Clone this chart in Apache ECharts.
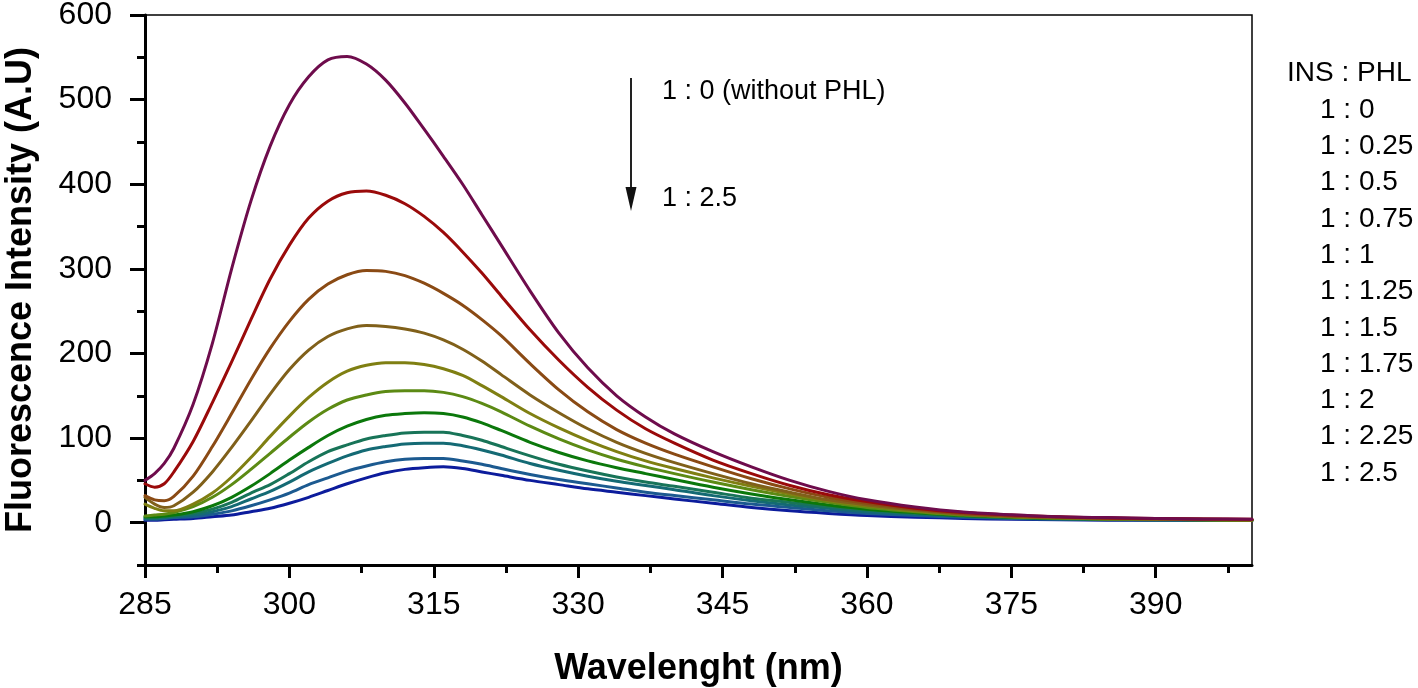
<!DOCTYPE html>
<html>
<head>
<meta charset="utf-8">
<script src="https://cdn.jsdelivr.net/npm/echarts@6/dist/echarts.min.js"></script>
<style>
html,body{margin:0;padding:0;background:#fff;}
#chart{width:1418px;height:688px;}
</style>
</head>
<body>
<div id="chart"></div>
<script>
// Wavelength (nm)
var wavelengths = [285,286,287,288,290,292,294,296,298,300,302,304,306,308,310,312,314,316,318,320,322,325,328,331,334,337,340,344,348,352,356,360,365,370,375,380,385,390,395,400];

// INS : PHL ratios (legend labels)
var ratioLabels = ['1 : 0','1 : 0.25','1 : 0.5','1 : 0.75','1 : 1','1 : 1.25','1 : 1.5','1 : 1.75','1 : 2','1 : 2.25','1 : 2.5'];

// Fluorescence intensity for each ratio
var s_1_0    = [50,58,70,88,140,212,300,380,445,494,527,547,551,542,523,496,465,433,400,364,328,274,224,183,150,125,105,84,66,50,37,27,18.5,12.5,9.5,7,6,5,4.5,4];
var s_1_025  = [46,42,46,60,96,142,190,240,288,328,360,380,390,392,387,377,362,343,320,295,268,228,192,160,133,111,94,74,58,44,33,25,17,12,9,7,5.5,5,4.5,4];
var s_1_05   = [32,27,26,31,55,90,129,169,206,238,264,282,293,298,297,292,283,271,257,240,221,188,157,131,110,94,81,66,52,40,30,23,16,11,8,6.5,5.5,4.5,4,3.5];
var s_1_075  = [30,22,18,20,36,60,89,120,152,181,204,220,229,233,232,229,224,216,205,191,175,151,130,111,95,82,71,58,46,36,27,21,15,10,7.5,6,5,4.5,4,3.5];
var s_1_1    = [22,17,14,14,22,35,54,77,102,126,148,166,179,186,189,189,187,182,174,162,149,129,112,97,84,73,64,53,43,34,26,20,14,10,7,5.5,4.5,4,3.5,3];
var s_1_125  = [8,9,10,12,19,30,45,63,82,101,119,134,145,151,155,156,156,154,149,141,131,114,99,86,75,66,58,48,39,31,24,18,13,9,7,5.5,4.5,4,3.5,3];
var s_1_15   = [7,7,8,9,13,20,30,43,58,74,89,103,114,122,127,129,130,129,125,118,109,95,83,73,65,58,51,42,34,27,21,16,12,8.5,6.5,5,4.5,4,3.5,3];
var s_1_175  = [6,6,7,8,11,16,24,35,45,58,72,84,92,99,103,106,107,107,103,97.5,90,79,69,61,54,48,43,36,29,24,19,15,11,8,6,5,4,3.5,3.5,3];
var s_1_2    = [5,5,6,7,9,13,19,28,37,48,60,70,79,86,90,93,94,94,91,86,80,70,62,55,49,44,39,32,26,21,17,13,10,7.5,5.5,4.5,4,3.5,3,3];
var s_1_225  = [4,4,5,6,7,10,14,20,27,35,45,53,61,67,72,75,76,76,73,69,64,57,51,46,41,36,32,27,22,18,14,11,8.5,6.5,5,4,3.5,3,3,2.5];
var s_1_25   = [3,3,3.5,4,5,7,9,13,17,23,30,38,46,53,59,63,65,66,64,60,56,50,45,40,36,32,28,23,18,14,11,8.5,6.5,5,4,3.5,3,3,2.5,2.5];

var seriesValues = [s_1_0,s_1_025,s_1_05,s_1_075,s_1_1,s_1_125,s_1_15,s_1_175,s_1_2,s_1_225,s_1_25];
var seriesColors = ['#6e0c4c','#9a0a0a','#8a4a14','#80601a','#7f7f12','#5c8a14','#0b780b','#187458','#146a74','#1c5a90','#0c1c9c'];

// Axis ticks
var xMajor = [285,300,315,330,345,360,375,390];
var xMinor = [292.5,307.5,322.5,337.5,352.5,367.5,382.5,397.5];
var yMajor = [0,100,200,300,400,500,600];
var yMinor = [-50,50,150,250,350,450,550];

var FONT = 'Liberation Sans, Arial, sans-serif';

var chart = echarts.init(document.getElementById('chart'), null, {renderer:'canvas'});

var series = seriesValues.map(function(vals, i){
  return {
    name: ratioLabels[i],
    type: 'line',
    xAxisIndex: 0, yAxisIndex: 0,
    showSymbol: false,
    smooth: 0.3,
    lineStyle: {width: 3, color: seriesColors[i], join:'round', cap:'round'},
    itemStyle: {color: seriesColors[i]},
    data: wavelengths.map(function(w, j){ return [w, vals[j]]; }),
    z: 3 + (seriesValues.length - i)
  };
});

var legendGraphics = [{
  type:'text', x:1287, y:73,
  style:{text:'INS : PHL', font:'28px ' + FONT, fill:'#000', align:'left', verticalAlign:'middle'}
}];
ratioLabels.forEach(function(lbl, i){
  legendGraphics.push({
    type:'text', x:1320, y:110 + i*36.3,
    style:{text:lbl, font:'28px ' + FONT, fill:'#000', align:'left', verticalAlign:'middle'}
  });
});

var option = {
  backgroundColor:'#fff',
  animation:false,
  grid:{left:145, right:166, top:15, bottom:123, outerBoundsMode:'none', containLabel:false,
        show:true, borderColor:'#000', borderWidth:1.5, backgroundColor:'transparent'},
  xAxis:[{
    type:'value', min:285, max:400, interval:7.5,
    name:'Wavelenght (nm)', nameLocation:'middle', nameGap:86,
    nameTextStyle:{fontFamily:FONT, fontSize:36, fontWeight:'bold', color:'#000'},
    axisLine:{show:true, onZero:false, lineStyle:{color:'#000', width:3}},
    axisTick:{show:true, inside:false, length:13, lineStyle:{color:'#000', width:3}, customValues:xMajor},
    axisLabel:{show:true, margin:24, fontFamily:FONT, fontSize:32, color:'#000', customValues:xMajor},
    splitLine:{show:false}
  },{
    type:'value', min:285, max:400, interval:7.5, position:'bottom',
    axisLine:{show:false, onZero:false},
    axisTick:{show:true, inside:false, length:8, lineStyle:{color:'#000', width:3}, customValues:xMinor},
    axisLabel:{show:false},
    splitLine:{show:false}
  }],
  yAxis:[{
    type:'value', min:-50, max:600, interval:50,
    name:'Fluorescence Intensity (A.U)', nameLocation:'middle', nameGap:106, nameRotate:90,
    nameTextStyle:{fontFamily:FONT, fontSize:36, fontWeight:'bold', color:'#000'},
    axisLine:{show:true, onZero:false, lineStyle:{color:'#000', width:3}},
    axisTick:{show:true, inside:false, length:15, lineStyle:{color:'#000', width:3}, customValues:yMajor},
    axisLabel:{show:true, margin:33, fontFamily:FONT, fontSize:32, color:'#000', customValues:yMajor},
    splitLine:{show:false}
  },{
    type:'value', min:-50, max:600, interval:50, position:'left',
    axisLine:{show:false, onZero:false},
    axisTick:{show:true, inside:false, length:8, lineStyle:{color:'#000', width:3}, customValues:yMinor},
    axisLabel:{show:false},
    splitLine:{show:false}
  }],
  series: series,
  graphic: legendGraphics.concat([
    {type:'line', shape:{x1:631, y1:78, x2:631, y2:192}, style:{stroke:'#222', lineWidth:2}},
    {type:'polygon', shape:{points:[[625.5,187],[636.5,187],[631,211]]}, style:{fill:'#111'}},
    {type:'text', x:662, y:92, style:{text:'1 : 0 (without PHL)', font:'27px ' + FONT, fill:'#000', align:'left', verticalAlign:'middle'}},
    {type:'text', x:662, y:199, style:{text:'1 : 2.5', font:'27px ' + FONT, fill:'#000', align:'left', verticalAlign:'middle'}}
  ])
};
chart.setOption(option);
</script>
</body>
</html>
